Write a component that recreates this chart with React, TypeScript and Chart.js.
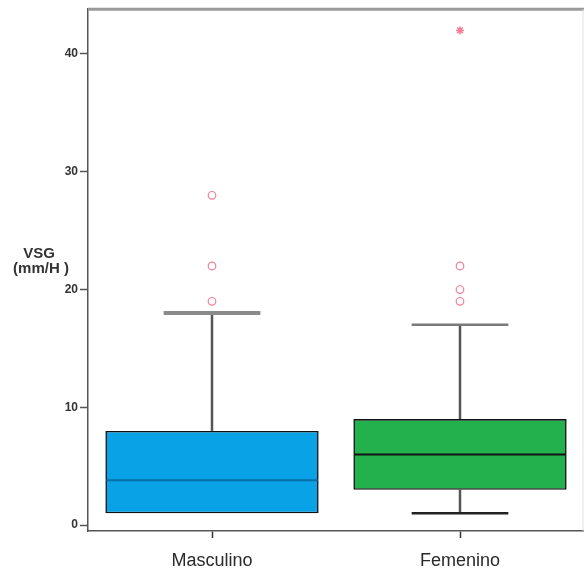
import React, { useEffect, useRef } from "react";
import { Chart, registerables } from "chart.js";

Chart.register(...registerables);

// Box-plot summary of VSG by sex
const categories = ["Masculino", "Femenino"];
const lowerWhisker = [1, 1];
const q1 = [1, 3];
const median = [3.8, 6];
const q3 = [8, 9];
const upperWhisker = [18, 17];
const outliersMasculino = [19, 22, 28];
const outliersFemenino = [19, 20, 22];
const extremesFemenino = [42];
const yTicks = [0, 10, 20, 30, 40];

const boxColors = ["#0aa2e6", "#22b14c"];
const medianColors = ["#0b6ea6", "#111111"];
const upperCapColors = ["#8a8a8a", "#7a7a7a"];
const lowerCapColors = ["#8a8a8a", "#222222"];

const boxPlotPlugin = {
  id: "boxWhiskers",
  beforeDatasetsDraw(chart: any) {
    const { ctx, scales } = chart;
    const x = scales.x;
    const y = scales.y;
    const catW = x.width / categories.length;
    const half = (catW * 0.39) / 2;
    ctx.save();
    ctx.lineCap = "butt";
    categories.forEach((_, i) => {
      const cx = x.getPixelForValue(i);
      // upper whisker
      ctx.strokeStyle = "#555555";
      ctx.lineWidth = 2.5;
      ctx.beginPath();
      ctx.moveTo(cx, y.getPixelForValue(q3[i]));
      ctx.lineTo(cx, y.getPixelForValue(upperWhisker[i]));
      ctx.stroke();
      ctx.strokeStyle = upperCapColors[i];
      ctx.lineWidth = i === 0 ? 4 : 2.5;
      ctx.beginPath();
      ctx.moveTo(cx - half, y.getPixelForValue(upperWhisker[i]));
      ctx.lineTo(cx + half, y.getPixelForValue(upperWhisker[i]));
      ctx.stroke();
      // lower whisker
      if (lowerWhisker[i] < q1[i]) {
        ctx.strokeStyle = "#555555";
        ctx.lineWidth = 2.5;
        ctx.beginPath();
        ctx.moveTo(cx, y.getPixelForValue(q1[i]));
        ctx.lineTo(cx, y.getPixelForValue(lowerWhisker[i]));
        ctx.stroke();
        ctx.strokeStyle = lowerCapColors[i];
        ctx.lineWidth = 2.5;
        ctx.beginPath();
        ctx.moveTo(cx - half, y.getPixelForValue(lowerWhisker[i]));
        ctx.lineTo(cx + half, y.getPixelForValue(lowerWhisker[i]));
        ctx.stroke();
      }
    });
    ctx.restore();
  },
  afterDatasetsDraw(chart: any) {
    const { ctx, scales } = chart;
    const y = scales.y;
    const meta = chart.getDatasetMeta(0);
    ctx.save();
    categories.forEach((_, i) => {
      const bar = meta.data[i];
      const hw = bar.width / 2;
      const cx = bar.x;
      const my = y.getPixelForValue(median[i]);
      ctx.strokeStyle = medianColors[i];
      ctx.lineWidth = 2;
      ctx.beginPath();
      ctx.moveTo(cx - hw + 1, my);
      ctx.lineTo(cx + hw - 1, my);
      ctx.stroke();
    });
    ctx.restore();
  },
  afterDraw(chart: any) {
    const { ctx, chartArea } = chart;
    ctx.save();
    // frame top and right
    ctx.strokeStyle = "#9a9a9a";
    ctx.lineWidth = 3;
    ctx.beginPath();
    ctx.moveTo(chartArea.left, chartArea.top);
    ctx.lineTo(chartArea.right + 2, chartArea.top);
    ctx.stroke();
    ctx.strokeStyle = "#e2e2e2";
    ctx.lineWidth = 1;
    ctx.beginPath();
    ctx.moveTo(Math.min(chartArea.right, 583), chartArea.top);
    ctx.lineTo(Math.min(chartArea.right, 583), chartArea.bottom);
    ctx.stroke();
    // y title
    const mid = (chartArea.top + chartArea.bottom) / 2;
    ctx.fillStyle = "#333333";
    ctx.font = "bold 15px Arial, 'Liberation Sans', sans-serif";
    ctx.textAlign = "center";
    ctx.textBaseline = "middle";
    ctx.fillText("VSG", 39, mid - 16);
    ctx.fillText("(mm/H )", 41, mid - 1);
    ctx.restore();
  },
};

export default function App() {
  const ref = useRef<HTMLCanvasElement>(null);

  useEffect(() => {
    document.body.style.margin = "0";
    const canvas = ref.current;
    if (!canvas) return;

    const outlierPoints = [
      ...outliersMasculino.map((v) => ({ x: categories[0], y: v })),
      ...outliersFemenino.map((v) => ({ x: categories[1], y: v })),
    ];
    const extremePoints = extremesFemenino.map((v) => ({ x: categories[1], y: v }));

    const chart = new Chart(canvas, {
      type: "bar",
      data: {
        labels: categories,
        datasets: [
          {
            type: "bar",
            data: categories.map((_, i) => [q1[i], q3[i]]),
            backgroundColor: boxColors,
            borderColor: "#111111",
            borderWidth: 1.6,
            borderSkipped: false,
            barPercentage: 0.86,
            categoryPercentage: 1,
          } as any,
          {
            type: "line",
            data: outlierPoints,
            showLine: false,
            pointStyle: "circle",
            pointRadius: 3.8,
            pointBorderWidth: 1.2,
            pointBorderColor: "#f27d95",
            pointBackgroundColor: "rgba(255,255,255,0)",
          } as any,
          {
            type: "line",
            data: extremePoints,
            showLine: false,
            pointStyle: "star",
            pointRadius: 4,
            pointBorderWidth: 1.5,
            pointBorderColor: "#f27d95",
            pointBackgroundColor: "#f27d95",
          } as any,
        ],
      },
      options: {
        responsive: false,
        animation: false,
        layout: { autoPadding: false, padding: { top: 8, right: -2, left: 0, bottom: 0 } },
        plugins: { legend: { display: false }, tooltip: { enabled: false } },
        scales: {
          x: {
            type: "category",
            offset: true,
            grid: {
              offset: false,
              drawOnChartArea: false,
              drawTicks: true,
              tickLength: 7,
              tickColor: "#333333",
              tickWidth: 1.5,
            },
            border: { color: "#555555", width: 1.5 },
            ticks: {
              color: "#2a2a2a",
              padding: 12,
              font: { family: "Arial, 'Liberation Sans', sans-serif", size: 18 },
            },
            afterFit: (axis: any) => {
              axis.height = 44;
            },
          },
          y: {
            type: "linear",
            min: -0.5,
            max: 43.8,
            grid: {
              drawOnChartArea: false,
              drawTicks: true,
              tickLength: 8,
              tickColor: "#555555",
              tickWidth: 1.5,
            },
            border: { color: "#555555", width: 1.5 },
            ticks: {
              color: "#333333",
              padding: 2,
              font: { family: "Arial, 'Liberation Sans', sans-serif", size: 12, weight: "bold" },
            },
            afterBuildTicks: (axis: any) => {
              axis.ticks = yTicks.map((v) => ({ value: v }));
            },
            afterFit: (axis: any) => {
              axis.width = 88;
            },
          },
        },
      },
      plugins: [boxPlotPlugin],
    });

    return () => chart.destroy();
  }, []);

  return (
    <div style={{ width: 584, height: 575 }}>
      <canvas ref={ref} width={584} height={575} />
    </div>
  );
}
